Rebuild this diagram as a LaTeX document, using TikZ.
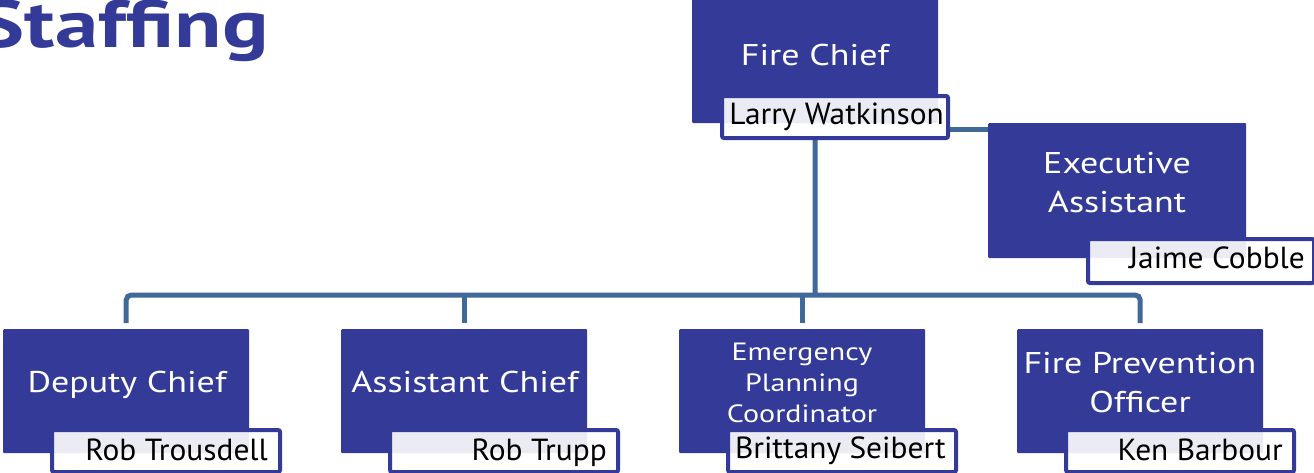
\documentclass[tikz,border=0pt]{standalone}
\usepackage{fontspec}
\setmainfont{PT Sans}
\newfontfamily\rolefont{PT Sans}[FakeStretch=1.2]
\newfontfamily\namefont{PT Sans}[FakeStretch=1.03]
\newfontfamily\headfont{PT Sans}[FakeStretch=1.3]
\usetikzlibrary{backgrounds,calc}
\definecolor{boxblue}{RGB}{52,58,151}
\definecolor{linkblue}{RGB}{62,105,152}
\newcommand{\stackl}[1]{\begin{tabular}[t]{@{}c@{}}#1\end{tabular}}
\begin{document}
\begin{tikzpicture}[x=1pt,y=-1pt,
 rolebox/.style={fill=boxblue,draw=none,inner sep=0pt,anchor=north west,minimum width=246pt,minimum height=124pt,rounded corners=1pt},
 namebox/.style={draw=boxblue,line width=4pt,fill=white,fill opacity=0.9,inner sep=0pt,anchor=north west,minimum width=228pt,minimum height=42pt,rounded corners=2pt},
 roletext/.style={text=white,anchor=base,font=\rolefont\fontsize{30}{39}\selectfont,inner sep=0pt},
 nametext/.style={text=black,anchor=base east,font=\namefont\fontsize{30.5}{36}\selectfont,inner sep=0pt},
 link/.style={draw=linkblue,line width=5pt,rounded corners=5pt}]
\useasboundingbox (0,0) rectangle (1314,472);

\node[anchor=base east,text=boxblue,font=\headfont\bfseries\fontsize{67}{70}\selectfont,inner sep=0pt] (title) at (269,47) {Staffing};

% role boxes
\node[rolebox,minimum height=129pt] (fc) at (692,-6) {};
\node[rolebox,minimum width=258pt,minimum height=135pt] (ea) at (988,123) {};
\node[rolebox] (dc) at (3,329) {};
\node[rolebox] (ac) at (341,329) {};
\node[rolebox] (ep) at (679,329) {};
\node[rolebox] (fp) at (1017,329) {};

% role titles
\node[roletext] (fct) at (815,65) {Fire Chief};
\node[roletext] (eat) at (1117,173) {\stackl{Executive\\Assistant}};
\node[roletext] (dct) at (127,392) {Deputy Chief};
\node[roletext] (act) at (465,392) {Assistant Chief};
\node[roletext,font=\rolefont\fontsize{25}{31}\selectfont] (ept) at (802,360) {\stackl{Emergency\\Planning\\Coordinator}};
\node[roletext] (fpt) at (1140,373) {\stackl{Fire Prevention\\Officer}};

% name boxes
\node[namebox,minimum width=226pt] (fcn) at (720,94) {};
\node[namebox,minimum width=226pt,minimum height=44pt] (ean) at (1086,237) {};
\node[namebox] (dcn) at (50,428) {};
\node[namebox] (acn) at (388,428) {};
\node[namebox] (epn) at (726,428) {};
\node[namebox] (fpn) at (1064,428) {};

% names
\node[nametext] (fcnt) at (944,124) {Larry Watkinson};
\node[nametext] (eant) at (1305,268) {Jaime Cobble};
\node[nametext] (dcnt) at (268,460) {Rob Trousdell};
\node[nametext] (acnt) at (607,460) {Rob Trupp};
\node[nametext] (epnt) at (946,458) {Brittany Seibert};
\node[nametext] (fpnt) at (1283,460) {Ken Barbour};

% connectors
\coordinate (bus) at (815,295);
\begin{pgfonlayer}{background}
\draw[link] ($(fcn.east)+(0,12)$) -- ($(fcn.east -| ea.west)+(0,12)$);
\draw[link] (fc.south |- fcn.south) -- (bus);
\draw[link,shorten >=6pt] (bus) -| (dc.north);
\draw[link,shorten >=6pt] (bus) -| (fp.north);
\draw[link,shorten >=6pt] (bus -| ac.north) -- (ac.north);
\draw[link,shorten >=6pt] (bus -| ep.north) -- (ep.north);
\end{pgfonlayer}
\end{tikzpicture}
\end{document}
